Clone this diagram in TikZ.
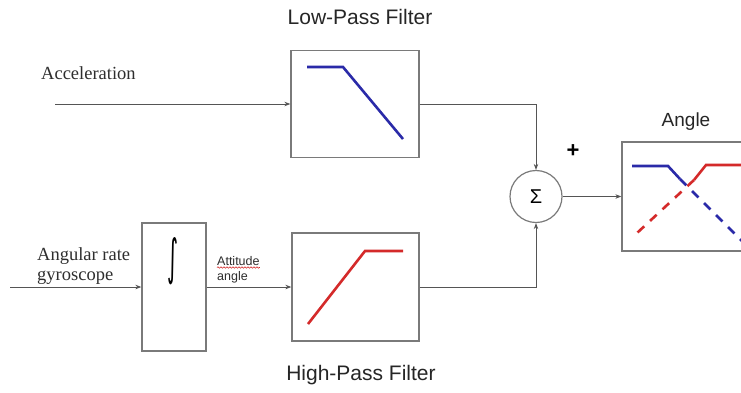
\documentclass[tikz,border=0pt]{standalone}
\usepackage{fontspec}
\setmainfont{Liberation Serif}
\newfontfamily\arialf{Liberation Sans}
\newfontfamily\djvf{DejaVu Sans}
\usetikzlibrary{arrows.meta,decorations.pathmorphing}
\definecolor{boxgray}{HTML}{7A7A7A}
\definecolor{linegray}{HTML}{555555}
\definecolor{txtgray}{HTML}{2E2E2E}
\definecolor{fblue}{HTML}{2A2AA8}
\definecolor{fred}{HTML}{D42A2A}
\begin{document}
\begin{tikzpicture}[x=1pt,y=-1pt,
  block/.style={draw=boxgray, line width=1.3pt, fill=white, inner sep=0pt, rectangle},
  conn/.style={draw=linegray, line width=0.9pt, -{Stealth[length=6pt,width=4.5pt]}},
  serif/.style={font=\fontsize{18.5}{20}\selectfont, text=txtgray, inner sep=0pt},
  sanslabel/.style={font=\arialf\fontsize{21}{24}\selectfont, text=black!85, inner sep=0pt},
  small/.style={font=\arialf\fontsize{12.5}{14}\selectfont, text=txtgray, inner sep=0pt},
  curve/.style={line width=2.6pt, line join=miter},
  dcurve/.style={line width=2.6pt, dash pattern=on 9pt off 8pt}
]
\clip (0,0) rectangle (741,392);
\fill[white] (0,0) rectangle (741,392);

% blocks
\node[block, minimum width=128pt, minimum height=107pt] (lpf) at (355,104) {};
\node[block, minimum width=127pt, minimum height=108pt] (hpf) at (355.5,287) {};
\node[block, minimum width=64pt, minimum height=128pt] (integ) at (174,287) {};
\node[draw=boxgray, line width=1.2pt, circle, minimum size=52pt, inner sep=0pt, fill=white] (sum) at (536,196.5) {};
\node[block, minimum width=140pt, minimum height=109pt] (ang) at (692,196.5) {};

% symbols
\node[inner sep=0pt, font=\arialf\fontsize{20}{22}\selectfont] (sig) at (536,197) {Σ};
\node[inner sep=0pt] (int) at (173,261) {\resizebox{11pt}{37pt}{\djvf ∫}};

% labels
\node[sanslabel] (lpflab) at (360,17) {Low-Pass Filter};
\node[sanslabel] (hpflab) at (361,375) {High-Pass Filter};
\node[sanslabel, font=\arialf\fontsize{19}{22}\selectfont] (anglab) at (686,122) {Angle};
\node[inner sep=0pt, font=\arialf\bfseries\fontsize{22}{24}\selectfont] (plus) at (573,151) {+};
\node[serif, anchor=base west] (acc) at (41,79) {Acceleration};
\node[serif, anchor=base west] (ar) at (37,260) {Angular rate};
\node[serif, anchor=base west] (gy) at (37,280) {gyroscope};
\node[small, anchor=base west] (att) at (217,265) {Attitude};
\node[small, anchor=base west] (angl) at (217,280) {angle};
\draw[fred, line width=0.6pt, decorate, decoration={snake, amplitude=0.7pt, segment length=3pt}]
  ([yshift=-2.5pt]att.base west) -- ([yshift=-2.5pt]att.base east);

% inputs
\coordinate (accin) at (55,104);
\coordinate (gyin) at (10,287);

% connectors
\draw[conn] (accin) -- (lpf.west);
\draw[conn] (gyin) -- (integ.west);
\draw[conn] (integ.east) -- (hpf.west);
\draw[conn] (lpf.east) -| (sum.north);
\draw[conn] (hpf.east) -| (sum.south);
\draw[conn] (sum.east) -- (ang.west);

% filter curves
\draw[curve, fblue] (307,67) -- (343,67) -- (403,139);
\draw[curve, fred] (308,324) -- (365,251) -- (403,251);

% combined response
\draw[curve, fblue] (632,166) -- (668,166) -- (680,179);
\draw[dcurve, fblue] (680,179) -- (742,241);
\draw[curve, fred] (745,165) -- (706,165) -- (694,180);
\draw[dcurve, fred] (694,180) -- (637,233);
\end{tikzpicture}
\end{document}
